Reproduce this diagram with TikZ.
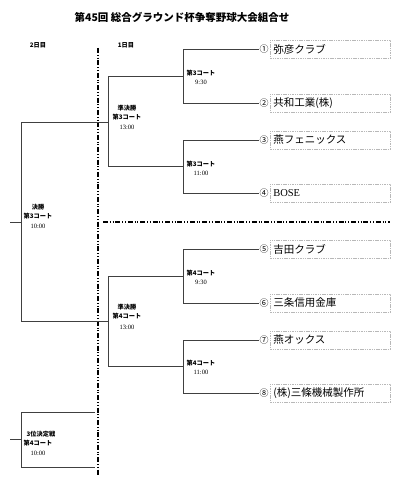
\documentclass[tikz,border=0pt]{standalone}
\usepackage{fontspec}
\setmainfont{Noto Sans CJK JP}
\newfontfamily\serifnum{Liberation Serif}
\begin{document}
\begin{tikzpicture}[x=1pt,y=-1pt,
  brk/.style={draw=black!75,line width=0.9pt},
  sep/.style={draw=black,line width=1.1pt,dash pattern=on 5pt off 1.8pt on 1pt off 1.8pt on 1pt off 1.8pt},
  teambox/.style={draw=black!28,line width=0.6pt,dash pattern=on 1.5pt off 0.8pt,minimum width=120pt,minimum height=18pt,anchor=west,inner xsep=3pt,text width=114pt,align=left,font=\fontsize{10.5}{12}\selectfont},
  num/.style={inner sep=0pt,font=\fontsize{9}{10}\selectfont},
  lbl/.style={inner sep=0pt,font=\fontsize{6.2}{7}\selectfont\bfseries,align=center},
  lbls/.style={inner sep=0pt,font=\fontsize{6.5}{7}\serifnum\selectfont,align=center}]
\useasboundingbox (0,0) rectangle (400,486);
% title
\node[font=\fontsize{10.5}{12}\selectfont\bfseries] (title) at (182,17) {第45回 総合グラウンド杯争奪野球大会組合せ};
\node[lbl] (d2) at (38,45) {2日目};
\node[lbl] (d1) at (126,45) {1日目};
% separators
\coordinate (vt) at (98,48); \coordinate (vb) at (98,476);
\draw[sep] (vt) -- (vb);
\coordinate (hl) at (103,222); \coordinate (hr) at (390,222);
\draw[sep] (hl) -- (hr);
% teams
\foreach \i/\y/\t in {1/49/弥彦クラブ,2/103/共和工業(株),3/140/燕フェニックス,4/193/{\serifnum BOSE},5/249/吉田クラブ,6/303/三条信用金庫,7/340/燕オックス,8/393/(株)三條機械製作所}{
  \node[num] (n\i) at (264,\y) {\ifcase\i\or ①\or ②\or ③\or ④\or ⑤\or ⑥\or ⑦\or ⑧\fi};
  \node[teambox] (t\i) at (270,\y) {\t};
  \coordinate (a\i) at (183,\y);
}
% round 1 brackets
\foreach \p/\q in {1/2,3/4,5/6,7/8}{
  \draw[brk] (n\p.west) -- (a\p) -- (a\q) -- (n\q.west);
}
\coordinate (m12) at (183,76); \coordinate (m34) at (183,166.5);
\coordinate (m56) at (183,276); \coordinate (m78) at (183,366.5);
\node[lbl] (c12) at (201,73) {第3コート};\node[lbls] (c12b) at (201,82) {9:30};
\node[lbl] (c34) at (201,164) {第3コート};\node[lbls] (c34b) at (201,173) {11:00};
\node[lbl] (c56) at (201,273) {第4コート};\node[lbls] (c56b) at (201,282) {9:30};
\node[lbl] (c78) at (201,363) {第4コート};\node[lbls] (c78b) at (201,372) {11:00};
% semifinals
\coordinate (s1) at (108,76); \coordinate (s2) at (108,166.5);
\coordinate (s3) at (108,276); \coordinate (s4) at (108,366.5);
\draw[brk] (m12) -- (s1) -- (s2) -- (m34);
\draw[brk] (m56) -- (s3) -- (s4) -- (m78);
\node[lbl] (sf1) at (127,108) {準決勝};\node[lbl] (sf1a) at (127,117.5) {第3コート};\node[lbls] (sf1b) at (127,127) {13:00};
\node[lbl] (sf2) at (127,307) {準決勝};\node[lbl] (sf2a) at (127,316.5) {第4コート};\node[lbls] (sf2b) at (127,327) {13:00};
% final
\coordinate (u1) at (108,122); \coordinate (u2) at (108,321.5);
\coordinate (f1) at (21,122); \coordinate (f2) at (21,321.5);
\coordinate (fm) at (21,222); \coordinate (fs) at (10,222);
\draw[brk] (u1) -- (f1) -- (f2) -- (u2);
\draw[brk] (fs) -- (fm);
\node[lbl] (fl) at (38,207) {決勝};\node[lbl] (fla) at (38,216.5) {第3コート};\node[lbls] (flb) at (38,226) {10:00};
% third place
\coordinate (g1) at (95,412); \coordinate (g2) at (21,412);
\coordinate (g3) at (21,467); \coordinate (g4) at (95,467);
\coordinate (gm) at (21,439); \coordinate (gs) at (10,439);
\draw[brk] (g1) -- (g2) -- (g3) -- (g4);
\draw[brk] (gs) -- (gm);
\node[lbl] (tp) at (41,434) {3位決定戦};\node[lbl] (tpa) at (38,443.5) {第4コート};\node[lbls] (tpb) at (38,453) {10:00};
\end{tikzpicture}
\end{document}
